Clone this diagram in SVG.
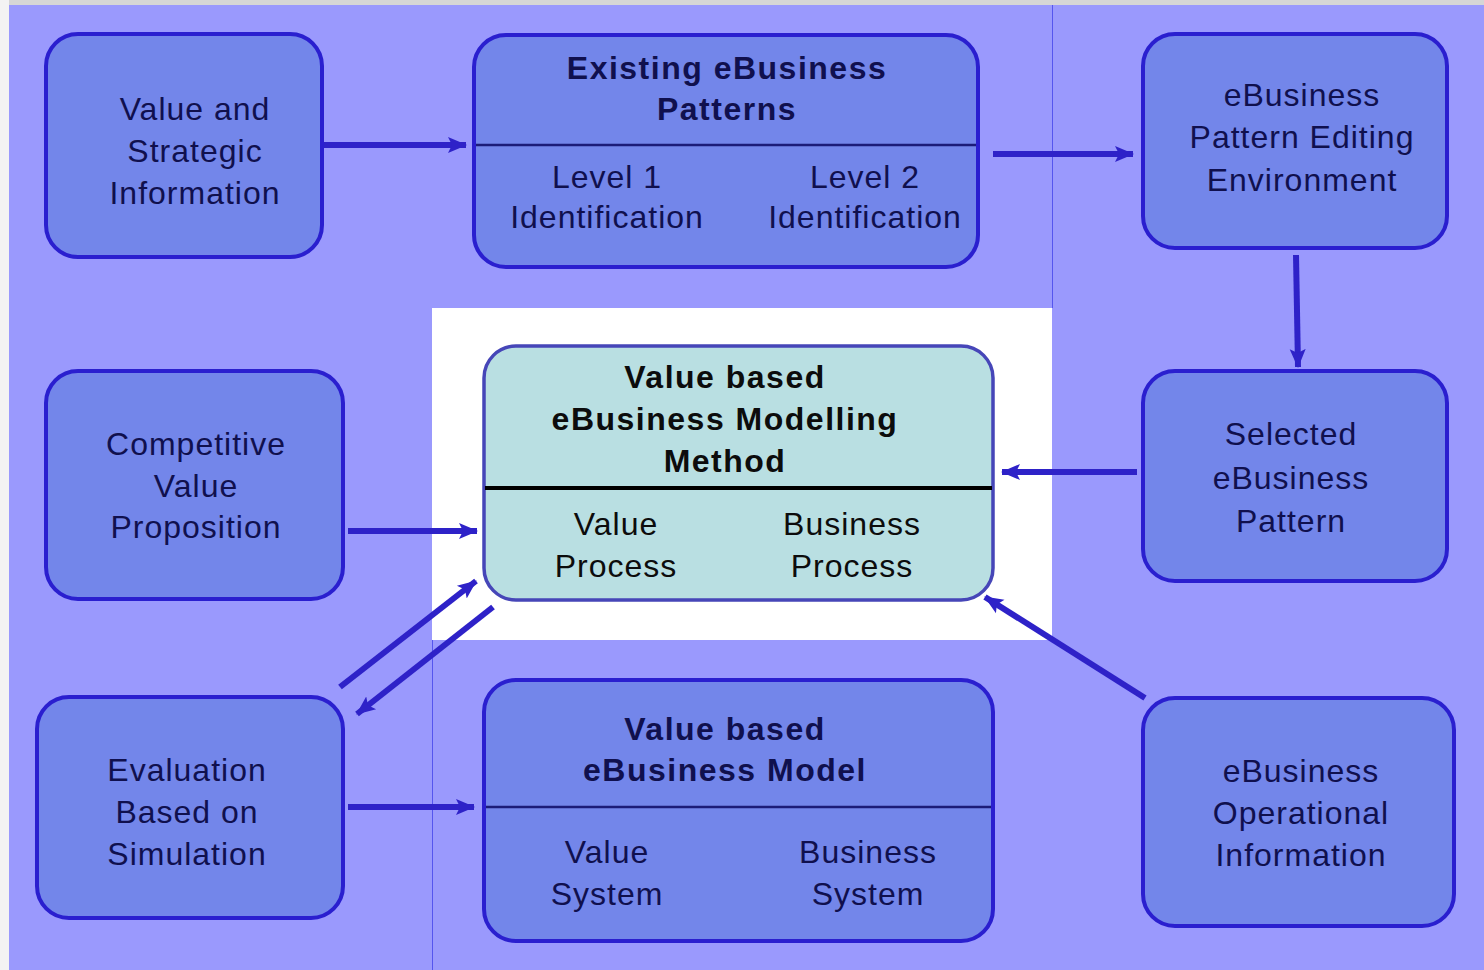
<svg xmlns="http://www.w3.org/2000/svg" width="1484" height="970" viewBox="0 0 1484 970">
<style>
.bg{fill:#9a99fd}
.node{fill:#7386ea;stroke:#2a1fcf;stroke-width:4}
.center{fill:#b9dfe2;stroke:#4646b8;stroke-width:3.5}
.div{stroke:#1c1c78;stroke-width:2.5}
.t{font-family:"Liberation Sans",Arial,sans-serif;font-size:32px;letter-spacing:1px;fill:#10104e;text-anchor:middle}
.b{font-weight:bold;letter-spacing:1.5px}
.k{fill:#0c0c0c}
.c{fill:none;stroke:#2e22c8;stroke-width:6}
</style>
<defs>
<marker id="ah" markerUnits="userSpaceOnUse" markerWidth="20" markerHeight="20" refX="18" refY="10" orient="auto">
<path d="M0,2 L19,10 L0,18 L4,10 z" fill="#2e22c8"/>
</marker>
</defs>
<rect x="0" y="0" width="1484" height="970" fill="#f3f3f3"/>
<rect x="9" y="0" width="1475" height="5" fill="#d6d6d6"/>
<rect class="bg" x="9" y="5" width="1475" height="965"/>
<rect x="432" y="308" width="620" height="332" fill="#ffffff"/>
<line x1="1052.5" y1="5" x2="1052.5" y2="308" stroke="#5555ee" stroke-width="1"/>
<line x1="432.5" y1="640" x2="432.5" y2="970" stroke="#5555ee" stroke-width="1"/>

<g id="connectors">
<line class="c" x1="323" y1="145" x2="466" y2="145" marker-end="url(#ah)"/>
<line class="c" x1="993" y1="154" x2="1133" y2="154" marker-end="url(#ah)"/>
<line class="c" x1="1296" y1="255" x2="1298" y2="367" marker-end="url(#ah)"/>
<line class="c" x1="1137" y1="472" x2="1002" y2="472" marker-end="url(#ah)"/>
<line class="c" x1="348" y1="531" x2="477" y2="531" marker-end="url(#ah)"/>
<line class="c" x1="340" y1="687" x2="476" y2="581" marker-end="url(#ah)"/>
<line class="c" x1="493" y1="607" x2="357" y2="714" marker-end="url(#ah)"/>
<line class="c" x1="1145" y1="698" x2="985" y2="597" marker-end="url(#ah)"/>
<line class="c" x1="348" y1="807" x2="474" y2="807" marker-end="url(#ah)"/>
</g>

<g id="value-strategic">
<rect class="node" x="46" y="34" width="276" height="223" rx="32"/>
<text class="t" x="195" y="120">Value and</text>
<text class="t" x="195" y="162">Strategic</text>
<text class="t" x="195" y="204">Information</text>
</g>

<g id="existing-patterns">
<rect class="node" x="474" y="35" width="504" height="232" rx="32"/>
<line class="div" x1="476" y1="145" x2="976" y2="145"/>
<text class="t b" x="727" y="79">Existing eBusiness</text>
<text class="t b" x="727" y="120">Patterns</text>
<text class="t" x="607" y="188">Level 1</text>
<text class="t" x="607" y="228">Identification</text>
<text class="t" x="865" y="188">Level 2</text>
<text class="t" x="865" y="228">Identification</text>
</g>

<g id="pattern-editing">
<rect class="node" x="1143" y="34" width="304" height="214" rx="32"/>
<text class="t" x="1302" y="106">eBusiness</text>
<text class="t" x="1302" y="148">Pattern Editing</text>
<text class="t" x="1302" y="191">Environment</text>
</g>

<g id="competitive-value">
<rect class="node" x="46" y="371" width="297" height="228" rx="32"/>
<text class="t" x="196" y="455">Competitive</text>
<text class="t" x="196" y="497">Value</text>
<text class="t" x="196" y="538">Proposition</text>
</g>

<g id="modelling-method">
<rect class="center" x="484" y="346" width="509" height="254" rx="32"/>
<line x1="485" y1="488" x2="992" y2="488" stroke="#000" stroke-width="4"/>
<text class="t b k" x="725" y="388">Value based</text>
<text class="t b k" x="725" y="430">eBusiness Modelling</text>
<text class="t b k" x="725" y="472">Method</text>
<text class="t k" x="616" y="535">Value</text>
<text class="t k" x="616" y="577">Process</text>
<text class="t k" x="852" y="535">Business</text>
<text class="t k" x="852" y="577">Process</text>
</g>

<g id="selected-pattern">
<rect class="node" x="1143" y="371" width="304" height="210" rx="32"/>
<text class="t" x="1291" y="445">Selected</text>
<text class="t" x="1291" y="489">eBusiness</text>
<text class="t" x="1291" y="532">Pattern</text>
</g>

<g id="evaluation">
<rect class="node" x="37" y="697" width="306" height="221" rx="32"/>
<text class="t" x="187" y="781">Evaluation</text>
<text class="t" x="187" y="823">Based on</text>
<text class="t" x="187" y="865">Simulation</text>
</g>

<g id="business-model">
<rect class="node" x="484" y="680" width="509" height="261" rx="32"/>
<line class="div" x1="486" y1="807" x2="991" y2="807"/>
<text class="t b" x="725" y="740">Value based</text>
<text class="t b" x="725" y="781">eBusiness Model</text>
<text class="t" x="607" y="863">Value</text>
<text class="t" x="607" y="905">System</text>
<text class="t" x="868" y="863">Business</text>
<text class="t" x="868" y="905">System</text>
</g>

<g id="operational-info">
<rect class="node" x="1143" y="698" width="311" height="228" rx="32"/>
<text class="t" x="1301" y="782">eBusiness</text>
<text class="t" x="1301" y="824">Operational</text>
<text class="t" x="1301" y="866">Information</text>
</g>
</svg>
